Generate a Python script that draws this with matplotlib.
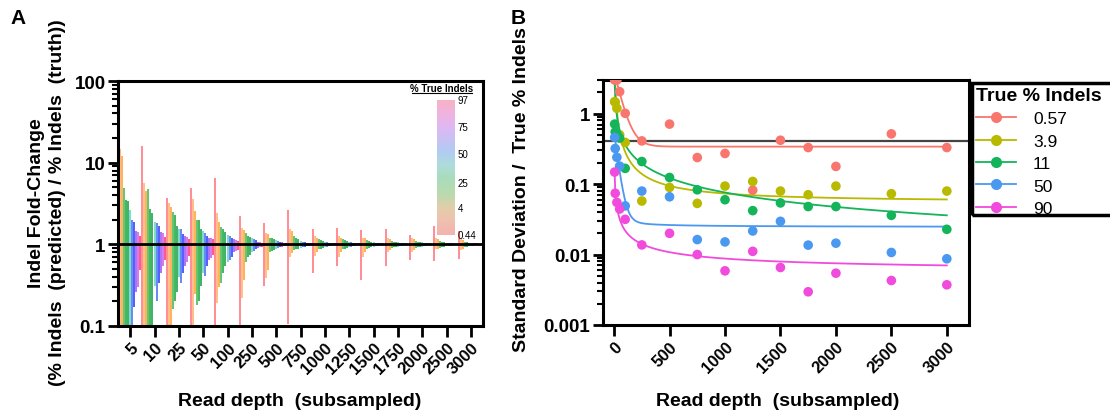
import numpy as np
import matplotlib
matplotlib.use('Agg')
import matplotlib.pyplot as plt
from matplotlib.colors import LinearSegmentedColormap
from matplotlib.lines import Line2D
from matplotlib.patches import Rectangle
from matplotlib.ticker import FixedLocator, FuncFormatter, LogLocator, NullFormatter

plt.rcParams['font.family'] = ['Liberation Sans', 'DejaVu Sans']

# ---------------- Panel A data ----------------
depth_labels = ['5', '10', '25', '50', '100', '250', '500', '750', '1000',
                '1250', '1500', '1750', '2000', '2500', '3000']
sample_true_pct = [0.44, 1.5, 4, 8, 15, 25, 35, 45, 55, 65, 80, 97]
# upper / lower fold-change per read depth (rows) and sample (columns)
fold_hi = [
    [20, 14.6, 12, 4.9, 3.5, 3.4, 2.6, 2.0, 1.9, 1.46, 1.4, 1.26],
    [16, 5.7, 4.5, 4.7, 2.7, 2.44, 1.86, 1.8, 1.7, 1.4, 1.39, 1.22],
    [3.7, 3.2, 2.9, 2.5, 2.3, 1.68, 1.55, 1.53, 1.33, 1.26, 1.24, 1.15],
    [4.9, 3.56, 2.54, 2.0, 2.0, 1.53, 1.45, 1.39, 1.26, 1.2, 1.2, 1.15],
    [6.4, 2.44, 1.9, 1.62, 1.53, 1.4, 1.3, 1.26, 1.2, 1.15, 1.12, 1.1],
    [2.22, 1.6, 1.5, 1.39, 1.26, 1.22, 1.2, 1.16, 1.12, 1.08, 1.06, 1.05],
    [1.8, 1.39, 1.33, 1.2, 1.18, 1.15, 1.12, 1.1, 1.08, 1.06, 1.05, 1.04],
    [2.6, 1.55, 1.45, 1.26, 1.2, 1.15, 1.1, 1.08, 1.06, 1.05, 1.04, 1.03],
    [1.53, 1.26, 1.2, 1.15, 1.12, 1.1, 1.08, 1.06, 1.05, 1.04, 1.03, 1.03],
    [1.57, 1.26, 1.2, 1.15, 1.12, 1.1, 1.08, 1.06, 1.05, 1.04, 1.03, 1.03],
    [1.48, 1.2, 1.18, 1.12, 1.1, 1.08, 1.06, 1.05, 1.04, 1.03, 1.03, 1.02],
    [1.53, 1.2, 1.15, 1.1, 1.08, 1.07, 1.06, 1.05, 1.04, 1.03, 1.03, 1.02],
    [1.3, 1.2, 1.15, 1.1, 1.08, 1.07, 1.06, 1.05, 1.04, 1.03, 1.03, 1.02],
    [1.68, 1.2, 1.15, 1.1, 1.08, 1.06, 1.05, 1.04, 1.04, 1.03, 1.02, 1.02],
    [1.46, 1.15, 1.12, 1.08, 1.06, 1.05, 1.04, 1.04, 1.03, 1.03, 1.02, 1.02],
]
fold_lo = [
    [0.1, 0.1, 0.1, 0.1, 0.1, 0.1, 0.1, 0.1, 0.17, 0.26, 0.3, 0.49],
    [0.1, 0.1, 0.1, 0.1, 0.1, 0.1, 0.31, 0.2, 0.34, 0.45, 0.54, 0.65],
    [0.1, 0.1, 0.1, 0.16, 0.2, 0.26, 0.4, 0.34, 0.45, 0.55, 0.6, 0.72],
    [0.1, 0.1, 0.25, 0.18, 0.2, 0.31, 0.45, 0.41, 0.54, 0.65, 0.68, 0.75],
    [0.1, 0.19, 0.3, 0.34, 0.45, 0.54, 0.6, 0.65, 0.7, 0.8, 0.82, 0.85],
    [0.1, 0.22, 0.37, 0.6, 0.69, 0.75, 0.8, 0.83, 0.87, 0.9, 0.92, 0.94],
    [0.31, 0.39, 0.49, 0.8, 0.83, 0.86, 0.88, 0.9, 0.92, 0.94, 0.95, 0.96],
    [0.105, 0.69, 0.79, 0.85, 0.87, 0.88, 0.9, 0.92, 0.94, 0.95, 0.96, 0.97],
    [0.45, 0.72, 0.8, 0.87, 0.88, 0.9, 0.92, 0.94, 0.95, 0.96, 0.97, 0.97],
    [0.55, 0.69, 0.8, 0.87, 0.88, 0.9, 0.92, 0.94, 0.95, 0.96, 0.97, 0.97],
    [0.37, 0.7, 0.8, 0.88, 0.9, 0.92, 0.94, 0.95, 0.96, 0.97, 0.97, 0.98],
    [0.54, 0.8, 0.85, 0.9, 0.92, 0.93, 0.94, 0.95, 0.96, 0.97, 0.97, 0.98],
    [0.64, 0.8, 0.85, 0.9, 0.92, 0.93, 0.94, 0.95, 0.96, 0.97, 0.97, 0.98],
    [0.62, 0.87, 0.88, 0.9, 0.92, 0.94, 0.95, 0.96, 0.96, 0.97, 0.98, 0.98],
    [0.67, 0.85, 0.88, 0.92, 0.94, 0.95, 0.96, 0.96, 0.97, 0.97, 0.98, 0.98],
]
cbar_labels = ['0.44', '4', '25', '50', '75', '97']
cbar_label_pos = [0.0, 0.2, 0.385, 0.6, 0.8, 1.0]

# ---------------- Panel B data ----------------
depths = [5, 10, 25, 50, 100, 250, 500, 750, 1000, 1250, 1500, 1750, 2000, 2500, 3000]
series_labels = ['0.57', '3.9', '11', '50', '90']
sd_057 = [3.0, 3.1, 3.0, 2.05, 1.01, 0.41, 0.71, 0.238, 0.272, 0.082, 0.419, 0.33, 0.178, 0.516, 0.33]
sd_39 = [1.48, 1.45, 1.19, 0.5, 0.39, 0.0575, 0.0897, 0.0532, 0.0937, 0.109, 0.0796, 0.0706, 0.0937, 0.073, 0.0796]
sd_11 = [0.71, 0.55, 0.52, 0.45, 0.167, 0.209, 0.124, 0.083, 0.06, 0.042, 0.054, 0.048, 0.048, 0.036, 0.0228]
sd_50 = [0.46, 0.32, 0.24, 0.18, 0.049, 0.0796, 0.066, 0.0163, 0.0151, 0.0216, 0.0296, 0.0136, 0.0145, 0.0107, 0.0087]
sd_90 = [0.148, 0.074, 0.055, 0.0443, 0.0316, 0.0137, 0.02, 0.01, 0.00587, 0.0111, 0.00655, 0.00296, 0.00544, 0.00428, 0.00372]
# fitted decay curves: y = c + a*x^-p + b*exp(-k*x)
fit_c = [0.34, 0.055, 0.0, 0.0245, 0.0055]
fit_a = [0.0, 36.6, 8.33, 0.25, 0.41]
fit_p = [1.0, 1.1, 0.68, 0.8, 0.7]
fit_b = [3.65, 0.0, 0.0, 0.5, 0.0]
fit_k = [0.016, 0.0, 0.0, 0.029, 0.0]
ref_line = 0.41

# ---------------- styles ----------------
bar_colors = ['#ff6f7a', '#ffb066', '#ff9f2e', '#38b84c', '#13a536', '#0e9e3e',
              '#5fd0bd', '#3d6df2', '#2235ff', '#9b4cf0', '#c957ea', '#ff2b6e']
series_colors = ['#f8766d', '#b9b900', '#14b45a', '#4a98f0', '#f04bdc']

W, H = 1110, 414
fig = plt.figure(figsize=(W / 100, H / 100), dpi=100)

def fx(px):
    return px / W

def fy(py):
    return 1 - py / H

# ================= Panel A =================
axA = fig.add_axes([fx(118), fy(327), fx(483) - fx(118), fy(82) - fy(327)])
n = len(sample_true_pct)
w = 1.0 / n
for j in range(n):
    xs = [k - 0.5 + j * w for k in range(len(depth_labels))]
    lo = [fold_lo[k][j] for k in range(len(depth_labels))]
    hi = [fold_hi[k][j] for k in range(len(depth_labels))]
    axA.vlines(xs, lo, hi, colors=bar_colors[j], linewidth=1.25, alpha=0.9, zorder=2)
axA.axhline(1, color='black', lw=2.0, zorder=3)
axA.set_yscale('log')
axA.set_ylim(0.1, 100)
axA.set_xlim(-0.5, len(depth_labels) - 0.5)
axA.set_xticks(range(len(depth_labels)))
axA.set_xticklabels(depth_labels, rotation=45, ha='right', va='top',
                    rotation_mode='anchor', fontsize=12, fontweight='bold')
axA.yaxis.set_major_locator(FixedLocator([0.1, 1, 10, 100]))
axA.yaxis.set_major_formatter(FuncFormatter(lambda v, _: f'{v:g}'))
axA.yaxis.set_minor_locator(LogLocator(base=10, subs=np.arange(2, 10)))
axA.yaxis.set_minor_formatter(NullFormatter())
for lab in axA.get_yticklabels():
    lab.set_fontweight('bold')
    lab.set_fontsize(13.5)
axA.tick_params(axis='x', which='major', length=8, width=2, pad=2)
axA.tick_params(axis='y', which='major', length=7, width=2, pad=2)
axA.tick_params(axis='y', which='minor', length=4, width=1.5)
for s in axA.spines.values():
    s.set_linewidth(2.2)

# colour key inset
cax = fig.add_axes([fx(437), fy(236), fx(455) - fx(437), fy(101) - fy(236)])
key_cmap = LinearSegmentedColormap.from_list('key', [
    (0.0, '#f3aaa6'), (0.12, '#ecbca6'), (0.2, '#e0c8a2'), (0.3, '#b3d6a6'),
    (0.42, '#a0d8b4'), (0.52, '#a6d8d8'), (0.62, '#a8c6f2'), (0.8, '#dcb0f2'),
    (0.9, '#efacdc'), (1.0, '#f7a9c0')])
grad = np.linspace(0, 1, 256).reshape(-1, 1)
cax.imshow(grad, aspect='auto', cmap=key_cmap, origin='lower', extent=[0, 1, 0, 1], alpha=0.9)
cax.set_axis_off()
for lab, pos in zip(cbar_labels, cbar_label_pos):
    cax.text(1.15, pos, lab, transform=cax.transAxes, ha='left', va='center', fontsize=7)
fig.text(fx(442), fy(89), '% True Indels', ha='center', va='center', fontsize=7, fontweight='bold')
fig.add_artist(Line2D([fx(412), fx(472)], [fy(93.5), fy(93.5)], color='black', lw=0.8))

fig.text(fx(47), fy(203), 'Indel Fold-Change\n(% Indels  (predicted) / % Indels  (truth))',
         rotation=90, ha='center', va='center', multialignment='center',
         fontsize=14, fontweight='bold', linespacing=1.25)
fig.text(fx(300), fy(402), 'Read depth  (subsampled)', ha='center', va='center',
         fontsize=14, fontweight='bold')
fig.text(fx(18), fy(18), 'A', ha='center', va='center', fontsize=15, fontweight='bold')

# ================= Panel B =================
axB = fig.add_axes([fx(603), fy(326), fx(969) - fx(603), fy(81) - fy(326)])
all_series = [sd_057, sd_39, sd_11, sd_50, sd_90]
xfit = np.linspace(5, 3000, 1200)
for i, vals in enumerate(all_series):
    yfit = fit_c[i] + fit_a[i] * xfit ** (-fit_p[i]) + fit_b[i] * np.exp(-fit_k[i] * xfit)
    axB.plot(xfit, yfit, color=series_colors[i], lw=1.3, zorder=2)
for i, vals in enumerate(all_series):
    axB.scatter(depths, vals, s=48, color=series_colors[i], edgecolors='none', zorder=3)
axB.axhline(ref_line, color='#444444', lw=1.6, zorder=1)
axB.set_yscale('log')
axB.set_ylim(0.001, 3)
axB.set_xlim(-100, 3200)
axB.set_xticks(range(0, 3001, 500))
axB.set_xticklabels([str(v) for v in range(0, 3001, 500)], rotation=45, ha='right',
                    va='top', rotation_mode='anchor', fontsize=12, fontweight='bold')
axB.yaxis.set_major_locator(FixedLocator([0.001, 0.01, 0.1, 1]))
axB.yaxis.set_major_formatter(FuncFormatter(lambda v, _: f'{v:g}'))
axB.yaxis.set_minor_locator(LogLocator(base=10, subs=np.arange(2, 10)))
axB.yaxis.set_minor_formatter(NullFormatter())
for lab in axB.get_yticklabels():
    lab.set_fontweight('bold')
    lab.set_fontsize(13.5)
axB.tick_params(axis='x', which='major', length=8, width=2, pad=2)
axB.tick_params(axis='y', which='major', length=7, width=2, pad=2)
axB.tick_params(axis='y', which='minor', length=4, width=1.5)
for s in axB.spines.values():
    s.set_linewidth(2.2)

fig.text(fx(521), fy(190), 'Standard Deviation /  True % Indels', rotation=90,
         ha='center', va='center', fontsize=14, fontweight='bold')
fig.text(fx(778), fy(402), 'Read depth  (subsampled)', ha='center', va='center',
         fontsize=14, fontweight='bold')
fig.text(fx(518), fy(18), 'B', ha='center', va='center', fontsize=15, fontweight='bold')

# legend (frame runs past the right edge of the figure, as in the original)
fig.add_artist(Rectangle((fx(972), fy(216)), fx(1125) - fx(972), fy(84) - fy(216),
                         transform=fig.transFigure, fill=False, edgecolor='black',
                         lw=2.5, clip_on=False))
handles = [Line2D([0], [0], color=c, lw=1.3, marker='o', markersize=8, markeredgewidth=0)
           for c in series_colors]
leg = fig.legend(handles, series_labels, title='True % Indels', loc='upper left',
                 bbox_to_anchor=(fx(974), fy(86)), frameon=False,
                 fontsize=12.5, title_fontsize=14, handlelength=2.3,
                 borderpad=0.1, labelspacing=0.42, handletextpad=1.0, borderaxespad=0,
                 alignment='left')
leg.get_title().set_fontweight('bold')

fig.savefig('out.png', dpi=100)
